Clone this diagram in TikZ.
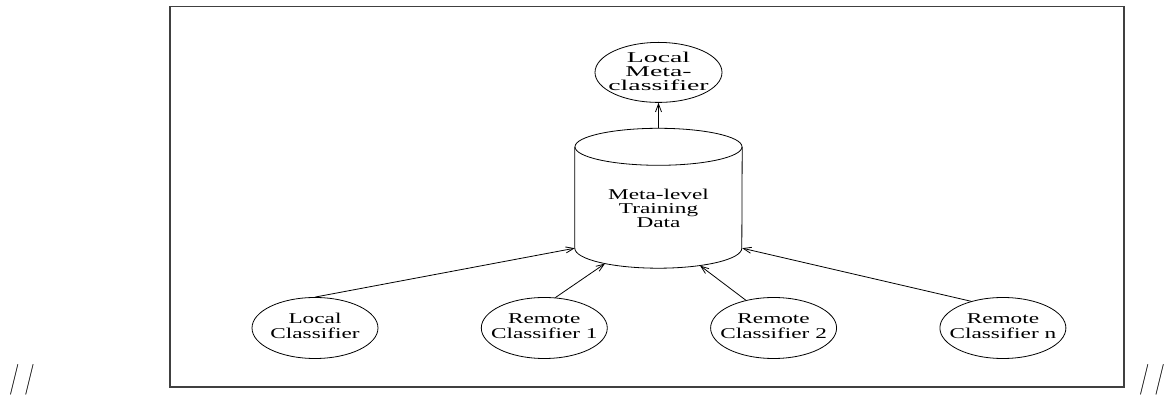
\documentclass[tikz,border=0pt]{standalone}
\usepackage{fontspec}
\setmainfont{Liberation Serif}
\usepackage{graphicx}
\usepackage{tikz}
\usetikzlibrary{positioning,calc,arrows.meta,shapes.geometric}
\tikzset{
  classifier-style/.style = {
    ellipse, draw, line width=0.8pt,
    minimum width=126pt,
    minimum height=61pt,
    inner sep=0pt,
    font=\fontsize{15}{13.5}\selectfont
  },
  meta-style/.style = {
    classifier-style,
    minimum width=127pt,
    minimum height=60pt,
    text height=9pt, text depth=0pt
  },
  data-style/.style = {
    rectangle, inner sep=0pt,
    minimum width=167pt,
    minimum height=101pt,
    text height=33pt, text depth=0pt,
    font=\fontsize{15}{14}\selectfont
  },
  outline-style/.style = {draw, line width=0.8pt},
  frame-style/.style = {draw=black!75, line width=1.3pt},
  slash-style/.style = {
    inner sep=0pt, font=\fontsize{22}{22}\selectfont\sffamily
  },
  every edge/.style = {draw, line width=0.8pt, -{Straight Barb[length=8pt,width=6pt]}}
}
\newcommand\displayName[2][1.55]{\makebox[0pt]{\scalebox{#1}[1]{\begin{tabular}{@{}c@{}}#2\end{tabular}}}}
\newcommand\slashMark{\scalebox{1}[1.4]{/\kern5pt/}}
\def\createClassifier name:#1 direct:#2 to:#3 display:#4;{
  \node [classifier-style, #2=102.5pt of #3] (#1) {\displayName{#4}};
}

\begin{document}
\begin{tikzpicture}[x=1pt,y=1pt]
  \useasboundingbox (0,0) rectangle (1168,396);
  \draw[frame-style] (170,389.5) rectangle (1124,9);
  \node[slash-style] (leftmark) at (22,16) {\slashMark};
  \node[slash-style] (rightmark) at (1152,16) {\slashMark};

  % meta-level data store
  \node[data-style] (data) at (658.5,198.5) {\displayName{Meta-level\\Training\\Data}};
  \draw[outline-style] (data.north west) -- (data.south west)
    arc[start angle=180, end angle=360, x radius=83.5pt, y radius=20pt]
    -- (data.north east);
  \draw[outline-style] (data.north) ellipse [x radius=83.5pt, y radius=18.5pt];
  \coordinate (cap) at ($(data.north)+(0,18.5)$);
  \coordinate (in1) at ($(data.south)+(-53.5,-15.4)$);
  \coordinate (in2) at ($(data.south)+(41.5,-17.4)$);

  \node[meta-style, above=44pt of data] (meta) {\displayName[1.85]{Local\\Meta-\\classifier}};

  % base classifiers
  \node[classifier-style] (local) at (315,68) {\displayName{Local\\Classifier}};
  \createClassifier name:remote1 direct:right to:local display:{Remote\\Classifier 1};
  \createClassifier name:remote2 direct:right to:remote1 display:{Remote\\Classifier 2};
  \createClassifier name:remoten direct:right to:remote2 display:{Remote\\Classifier n};

  \path (cap) edge (meta.south)
        (local.north) edge (data.south west)
        (remote1.70) edge (in1)
        (remote2.135) edge (in2)
        (remoten.140) edge (data.south east);
\end{tikzpicture}
\end{document}
